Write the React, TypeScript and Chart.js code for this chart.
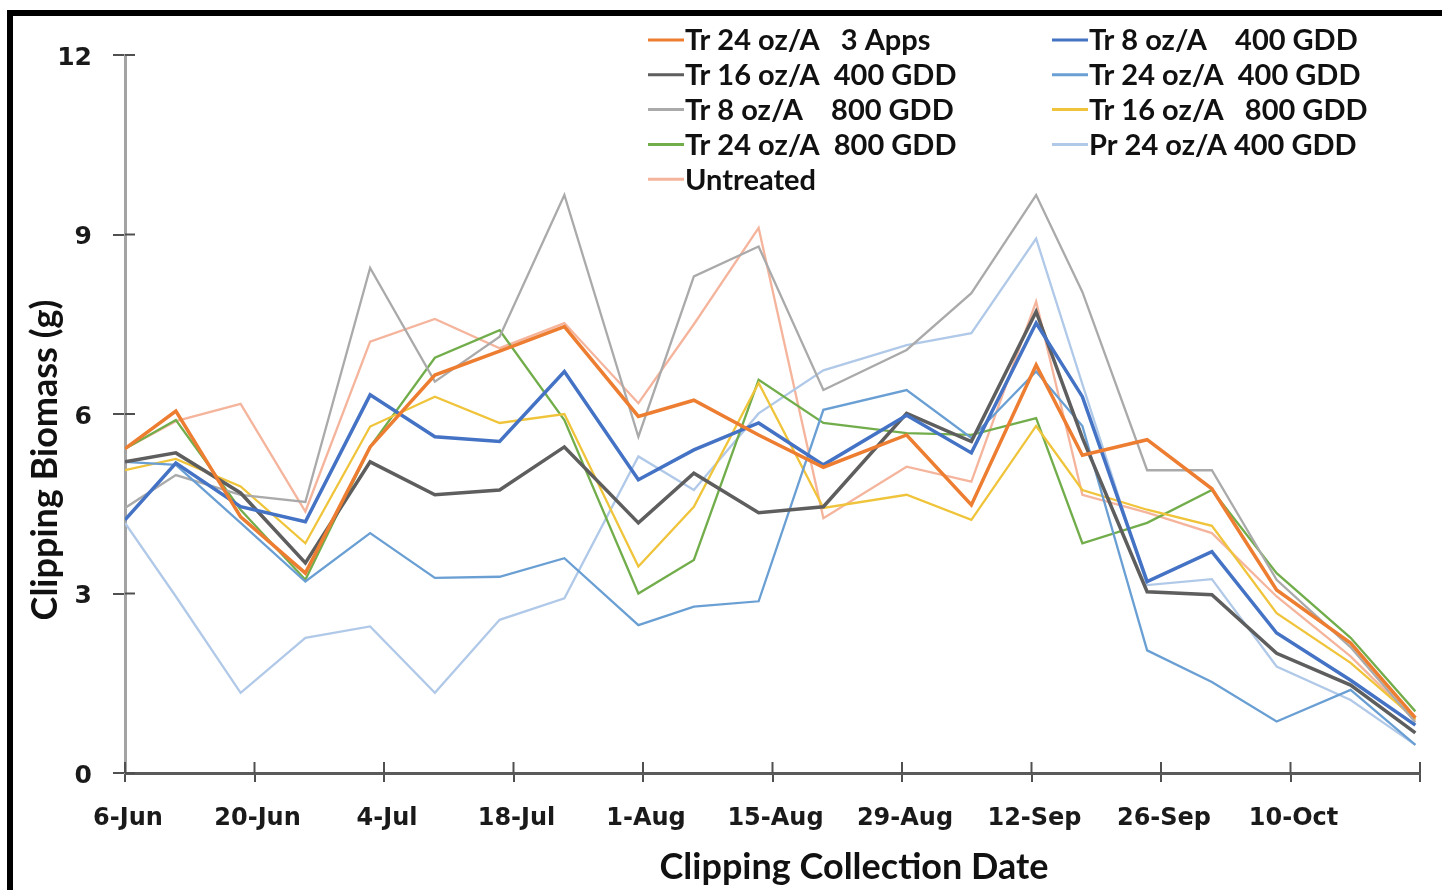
import React, { useEffect, useRef } from 'react';
import { Chart, registerables } from 'chart.js';

Chart.register(...registerables);

// Collection dates, as days after 6-Jun
const collectionDay = [0, 5.5, 12.5, 19.5, 26.5, 33.5, 40.5, 47.5, 55.5, 61.5, 68.5, 75.5, 84.5, 91.5, 98.5, 103.5, 110.5, 117.5, 124.5, 132.5, 139.5];
const xTickLabels = ['6-Jun', '20-Jun', '4-Jul', '18-Jul', '1-Aug', '15-Aug', '29-Aug', '12-Sep', '26-Sep', '10-Oct', ''];

const seriesLabels = [
  'Tr 24 oz/A   3 Apps',
  'Tr 8 oz/A    400 GDD',
  'Tr 16 oz/A  400 GDD',
  'Tr 24 oz/A  400 GDD',
  'Tr 8 oz/A    800 GDD',
  'Tr 16 oz/A   800 GDD',
  'Tr 24 oz/A  800 GDD',
  'Pr 24 oz/A 400 GDD',
  'Untreated',
];

const tr24ThreeApps = [5.42, 6.05, 4.28, 3.34, 5.45, 6.65, 7.05, 7.46, 5.96, 6.23, 5.65, 5.11, 5.65, 4.48, 6.82, 5.31, 5.57, 4.75, 3.06, 2.17, 0.92];
const tr8At400 = [4.23, 5.18, 4.45, 4.2, 6.32, 5.62, 5.54, 6.71, 4.9, 5.4, 5.85, 5.15, 5.98, 5.35, 7.52, 6.29, 3.2, 3.7, 2.34, 1.55, 0.8];
const tr16At400 = [5.2, 5.35, 4.68, 3.51, 5.2, 4.65, 4.73, 5.45, 4.18, 5.01, 4.35, 4.45, 6.01, 5.54, 7.71, 5.6, 3.03, 2.98, 2.0, 1.47, 0.67];
const tr24At400 = [5.2, 5.15, 4.18, 3.2, 4.01, 3.26, 3.28, 3.59, 2.47, 2.78, 2.87, 6.07, 6.4, 5.6, 6.71, 5.8, 2.05, 1.52, 0.86, 1.39, 0.47];
const tr8At800 = [4.43, 4.98, 4.65, 4.53, 8.44, 6.54, 7.29, 9.66, 5.62, 8.3, 8.8, 6.4, 7.07, 8.02, 9.66, 8.04, 5.06, 5.06, 3.23, 2.1, 0.85];
const tr16At800 = [5.06, 5.25, 4.79, 3.84, 5.79, 6.29, 5.85, 6.0, 3.45, 4.45, 6.52, 4.43, 4.65, 4.23, 5.8, 4.73, 4.4, 4.13, 2.67, 1.84, 0.9];
const tr24At800 = [5.42, 5.9, 4.4, 3.23, 5.45, 6.94, 7.4, 5.9, 3.0, 3.56, 6.57, 5.85, 5.68, 5.65, 5.93, 3.84, 4.18, 4.73, 3.34, 2.26, 1.03];
const pr24At400 = [4.18, 2.95, 1.34, 2.26, 2.45, 1.34, 2.56, 2.92, 5.29, 4.73, 6.01, 6.73, 7.15, 7.35, 8.93, 6.5, 3.14, 3.24, 1.78, 1.22, 0.47];
const untreated = [5.42, 5.88, 6.17, 4.37, 7.21, 7.59, 7.1, 7.52, 6.18, 7.5, 9.11, 4.26, 5.12, 4.87, 7.88, 4.65, 4.35, 4.01, 2.95, 1.95, 0.88];

const seriesValues = [tr24ThreeApps, tr8At400, tr16At400, tr24At400, tr8At800, tr16At800, tr24At800, pr24At400, untreated];
const seriesColors = ['#ED7D31', '#4472C4', '#5E5E5E', '#6A9FD4', '#AAAAAA', '#F0C43A', '#72AD4B', '#B1C9E8', '#F5B49C'];
const seriesWidths = [3.5, 3.5, 3.5, 2.3, 2.3, 2.3, 2.3, 2.3, 2.3];

const TICK_FONT = "'DejaVu Sans', Verdana, sans-serif";
const TEXT_FONT = "Lato, 'Open Sans', sans-serif";

const crossTicks = {
  id: 'crossTicks',
  afterDraw(chart: any) {
    const { ctx, chartArea, scales } = chart;
    ctx.save();
    ctx.strokeStyle = '#505050';
    ctx.lineWidth = 2;
    scales.y.ticks.forEach((_t: any, i: number) => {
      const y = scales.y.getPixelForTick(i);
      ctx.beginPath();
      ctx.moveTo(chartArea.left, y);
      ctx.lineTo(chartArea.left + 10, y);
      ctx.stroke();
    });
    scales.x.ticks.forEach((_t: any, i: number) => {
      const x = scales.x.getPixelForTick(i);
      ctx.beginPath();
      ctx.moveTo(x, chartArea.bottom);
      ctx.lineTo(x, chartArea.bottom - 11);
      ctx.stroke();
    });
    ctx.restore();
  },
};

const customLegend = {
  id: 'customLegend',
  afterDraw(chart: any) {
    const { ctx } = chart;
    const colX = [648, 1052];
    const rowY0 = 40;
    const rowGap = 34.8;
    ctx.save();
    ctx.font = `bold 29px ${TEXT_FONT}`;
    ctx.textBaseline = 'middle';
    ctx.fillStyle = '#111';
    chart.data.datasets.forEach((ds: any, i: number) => {
      const col = i % 2;
      const row = Math.floor(i / 2);
      const x = colX[col];
      const y = rowY0 + row * rowGap;
      ctx.strokeStyle = ds.borderColor;
      ctx.lineWidth = 3;
      ctx.beginPath();
      ctx.moveTo(x, y);
      ctx.lineTo(x + 36, y);
      ctx.stroke();
      ctx.fillText(ds.label, x + 37, y + 1);
    });
    ctx.restore();
  },
};

const axisTitles = {
  id: 'axisTitles',
  afterDraw(chart: any) {
    const { ctx } = chart;
    ctx.save();
    ctx.fillStyle = '#111';
    ctx.font = `bold 36px ${TEXT_FONT}`;
    ctx.textAlign = 'center';
    ctx.textBaseline = 'middle';
    ctx.fillText('Clipping Collection Date', 854, 867);
    ctx.translate(45, 460);
    ctx.rotate(-Math.PI / 2);
    ctx.fillText('Clipping Biomass (g)', 0, 0);
    ctx.restore();
  },
};

export default function App() {
  const canvasRef = useRef<HTMLCanvasElement | null>(null);

  useEffect(() => {
    document.body.style.overflow = 'hidden';
    const canvas = canvasRef.current;
    if (!canvas) return;
    const chart = new Chart(canvas, {
      type: 'line',
      data: {
        datasets: seriesLabels.map((label, i) => ({
          label,
          data: seriesValues[i].map((v, j) => ({ x: collectionDay[j], y: v })),
          borderColor: seriesColors[i],
          backgroundColor: seriesColors[i],
          borderWidth: seriesWidths[i],
          pointRadius: 0,
          tension: 0,
          fill: false,
        })),
      },
      options: {
        animation: false,
        responsive: false,
        devicePixelRatio: 1,
        layout: { padding: { left: 0, right: 16, top: 55, bottom: 0 } },
        plugins: { legend: { display: false }, tooltip: { enabled: false } },
        scales: {
          x: {
            type: 'linear',
            min: 0,
            max: 140,
            afterFit(scale: any) {
              scale.height = 117;
            },
            afterBuildTicks(scale: any) {
              scale.ticks = xTickLabels.map((_l, i) => ({ value: i * 14 }));
            },
            ticks: {
              autoSkip: false,
              maxRotation: 0,
              padding: 22,
              labelOffset: 3,
              color: '#1a1a1a',
              font: { family: TICK_FONT, weight: 'bold', size: 24 },
              callback: (_v: any, i: number) => xTickLabels[i],
            },
            grid: { drawOnChartArea: false, drawTicks: true, tickLength: 9, color: '#505050', lineWidth: 2 },
            border: { display: true, color: '#5a5a5a', width: 3 },
          },
          y: {
            min: 0,
            max: 12,
            afterFit(scale: any) {
              scale.width = 125;
            },
            ticks: {
              stepSize: 3,
              padding: 21,
              labelOffset: 3,
              color: '#1a1a1a',
              font: { family: TICK_FONT, weight: 'bold', size: 25 },
            },
            grid: { drawOnChartArea: false, drawTicks: true, tickLength: 12, color: '#505050', lineWidth: 2 },
            border: { display: true, color: '#a3a3a3', width: 3 },
          },
        },
      },
      plugins: [crossTicks, customLegend, axisTitles],
    } as any);
    return () => chart.destroy();
  }, []);

  return (
    <div style={{ position: 'absolute', left: 0, top: 0, width: 1442, height: 890, background: '#fff' }}>
      <canvas ref={canvasRef} width={1442} height={890} style={{ position: 'absolute', left: 0, top: 0, width: 1442, height: 890 }} />
      <div
        style={{
          position: 'absolute',
          left: 7,
          top: 10,
          width: 1435,
          height: 880,
          boxSizing: 'border-box',
          borderTop: '6px solid #000',
          borderLeft: '6px solid #000',
          pointerEvents: 'none',
        }}
      />
    </div>
  );
}
